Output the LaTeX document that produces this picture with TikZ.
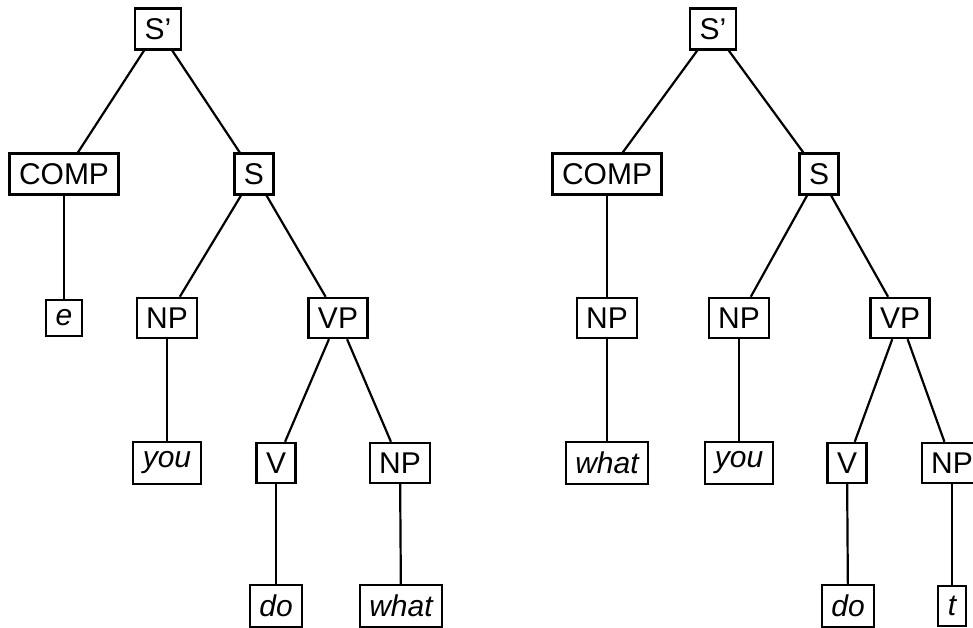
\documentclass[tikz,border=0pt]{standalone}
\usepackage{fontspec}
\setmainfont{Liberation Sans}
\begin{document}
\begin{tikzpicture}[x=1pt,y=-1pt,
  box/.style={draw, line width=2.2pt, inner xsep=9.5pt, inner ysep=9.8pt, font=\fontsize{30}{36}\selectfont},
  word/.style={box, font=\fontsize{30}{36}\selectfont\itshape},
  edge/.style={line width=2.2pt}]
\useasboundingbox (0,0) rectangle (973,628);
% left tree
\node[box] (aSp) at (158,29) {S’};
\node[box] (aCOMP) at (64,174) {COMP};
\node[box] (aS) at (254,174) {S};
\node[word] (ae) at (64,318) {e};
\node[box] (aNP) at (167,318) {NP};
\node[box] (aVP) at (338,318) {VP};
\node[word] (ayou) at (167,463) {you};
\node[box] (aV) at (276,463) {V};
\node[box] (aNPb) at (400,463) {NP};
\node[word] (ado) at (276,606) {do};
\node[word] (awhat) at (401,606) {what};
\draw[edge] (aSp) -- (aCOMP);
\draw[edge] (aSp) -- (aS);
\draw[edge] (aCOMP) -- (ae);
\draw[edge] (aS) -- (aNP);
\draw[edge] (aS) -- (aVP);
\draw[edge] (aNP) -- (ayou);
\draw[edge] (aVP) -- (aV);
\draw[edge] (aVP) -- (aNPb);
\draw[edge] (aV) -- (ado);
\draw[edge] (aNPb) -- (awhat);
% right tree
\node[box] (bSp) at (713,29) {S’};
\node[box] (bCOMP) at (607,174) {COMP};
\node[box] (bS) at (819,174) {S};
\node[box] (bNPa) at (607,318) {NP};
\node[box] (bNP) at (739,318) {NP};
\node[box] (bVP) at (900,318) {VP};
\node[word] (bwhat) at (607,463) {what};
\node[word] (byou) at (739,463) {you};
\node[box] (bV) at (847,463) {V};
\node[box] (bNPb) at (952,463) {NP};
\node[word] (bdo) at (848,606) {do};
\node[word] (bt) at (952,606) {t};
\draw[edge] (bSp) -- (bCOMP);
\draw[edge] (bSp) -- (bS);
\draw[edge] (bCOMP) -- (bNPa);
\draw[edge] (bNPa) -- (bwhat);
\draw[edge] (bS) -- (bNP);
\draw[edge] (bS) -- (bVP);
\draw[edge] (bNP) -- (byou);
\draw[edge] (bVP) -- (bV);
\draw[edge] (bVP) -- (bNPb);
\draw[edge] (bV) -- (bdo);
\draw[edge] (bNPb) -- (bt);
\end{tikzpicture}
\end{document}
